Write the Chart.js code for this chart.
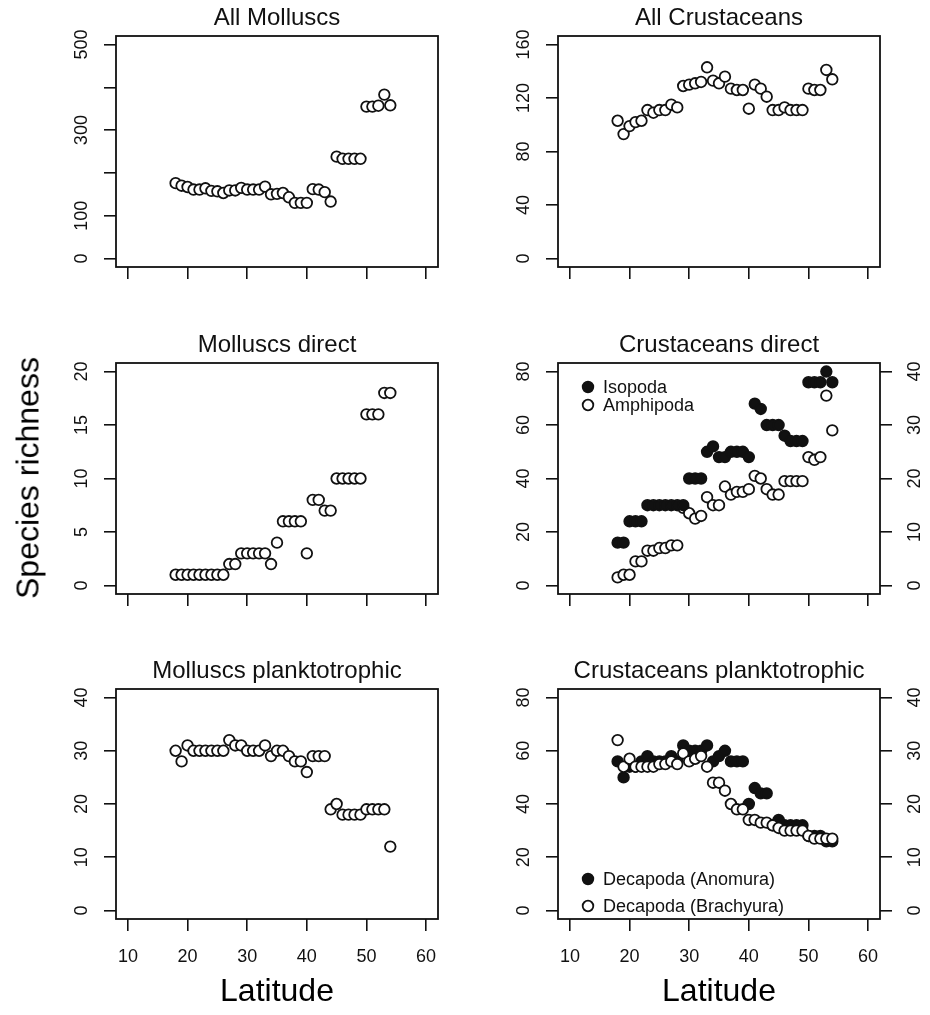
<!DOCTYPE html>
<html>
<head>
<meta charset="utf-8">
<script src="https://cdn.jsdelivr.net/npm/chart.js@4.4.0/dist/chart.umd.min.js"></script>
<style>
  body { margin: 0; background: #fff; }
  #wrap { position: relative; width: 930px; height: 1015px; overflow: hidden; font-family: "Liberation Sans", Arial, sans-serif; }
  #wrap canvas { position: absolute; }
  .lab { position: absolute; color: #000; font-size: 32px; white-space: nowrap; }
</style>
</head>
<body>
<div id="wrap">
  <canvas id="p1"></canvas>
  <canvas id="p2"></canvas>
  <canvas id="p3"></canvas>
  <canvas id="p4"></canvas>
  <canvas id="p5"></canvas>
  <canvas id="p6"></canvas>
  <div class="lab" id="ylab">Species richness</div>
  <div class="lab" id="xlab1">Latitude</div>
  <div class="lab" id="xlab2">Latitude</div>
</div>
<script>
// latitude of each sampled band
const latitude = [18, 19, 20, 21, 22, 23, 24, 25, 26, 27, 28, 29, 30, 31, 32, 33, 34, 35, 36,
                  37, 38, 39, 40, 41, 42, 43, 44, 45, 46, 47, 48, 49, 50, 51, 52, 53, 54];

// species richness
const allMolluscs = [176, 170, 167, 161, 161, 164, 158, 157, 153, 159, 159, 165, 161, 161, 161, 168, 150, 151, 153,
                     143, 130, 130, 130, 162, 161, 155, 133, 238, 233, 233, 233, 233, 355, 355, 357, 383, 358];
const allCrustaceans = [103, 93, 99, 102, 103, 111, 109, 111, 111, 115, 113, 129, 130, 131, 132, 143, 133, 131, 136,
                        127, 126, 126, 112, 130, 127, 121, 111, 111, 113, 111, 111, 111, 127, 126, 126, 141, 134];
const molluscsDirect = [1, 1, 1, 1, 1, 1, 1, 1, 1, 2, 2, 3, 3, 3, 3, 3, 2, 4, 6,
                        6, 6, 6, 3, 8, 8, 7, 7, 10, 10, 10, 10, 10, 16, 16, 16, 18, 18];
const isopoda = [16, 16, 24, 24, 24, 30, 30, 30, 30, 30, 30, 30, 40, 40, 40, 50, 52, 48, 48,
                 50, 50, 50, 48, 68, 66, 60, 60, 60, 56, 54, 54, 54, 76, 76, 76, 80, 76];
const amphipoda = [1.5, 2, 2, 4.5, 4.5, 6.5, 6.5, 7, 7, 7.5, 7.5, 14.5, 13.5, 12.5, 13, 16.5, 15, 15, 18.5,
                   17, 17.5, 17.5, 18, 20.5, 20, 18, 17, 17, 19.5, 19.5, 19.5, 19.5, 24, 23.5, 24, 35.5, 29];
const molluscsPlank = [30, 28, 31, 30, 30, 30, 30, 30, 30, 32, 31, 31, 30, 30, 30, 31, 29, 30, 30,
                       29, 28, 28, 26, 29, 29, 29, 19, 20, 18, 18, 18, 18, 19, 19, 19, 19, 12];
const anomura = [56, 50, 54, 54, 56, 58, 56, 56, 56, 58, 56, 62, 60, 60, 60, 62, 56, 58, 60,
                 56, 56, 56, 40, 46, 44, 44, 32, 34, 32, 32, 32, 32, 28, 28, 28, 26, 26];
const brachyura = [32, 27, 28.5, 27, 27, 27, 27, 27.5, 27.5, 28, 27.5, 29.5, 28, 28.5, 29, 27, 24, 24, 22.5,
                   20, 19, 19, 17, 17, 16.5, 16.5, 16, 15.5, 15, 15, 15, 15, 14, 13.5, 13.5, 13.5, 13.5];

// axis ticks
const latTicks = [10, 20, 30, 40, 50, 60];
const ticks500 = [0, 100, 200, 300, 400, 500];
const labels500 = [0, 100, 300, 500];
const ticks160 = [0, 40, 80, 120, 160];
const ticks20 = [0, 5, 10, 15, 20];
const ticks80 = [0, 20, 40, 60, 80];
const ticks40 = [0, 10, 20, 30, 40];

const FONT = '"Liberation Sans", Arial, sans-serif';
const INK = '#111';
const AXIS_W = 48;
const AXIS_H = 55;

// measure widest label so rotated labels sit at the same distance as R does
const mctx = document.createElement('canvas').getContext('2d');
mctx.font = '18px ' + FONT;
function labelPad(labels, dist) {
  let w = 0;
  labels.forEach(l => { w = Math.max(w, mctx.measureText(String(l)).width); });
  return dist - 12 - w / 2;
}

function xScale(showLabels) {
  return {
    type: 'linear', position: 'bottom', min: 8, max: 62,
    afterBuildTicks: s => { s.ticks = latTicks.map(v => ({ value: v })); },
    afterFit: s => { s.height = AXIS_H; s.paddingLeft = 0; s.paddingRight = 0; },
    grid: { drawOnChartArea: false, drawTicks: true, tickLength: 12, color: INK, lineWidth: 1.6 },
    border: { display: false },
    ticks: {
      padding: 15, color: INK, font: { family: FONT, size: 18 }, maxRotation: 0,
      callback: v => showLabels ? String(v) : ''
    }
  };
}

function yScale(top, tickVals, labelVals, position) {
  const dist = position === 'left' ? 34 : 35;
  return {
    type: 'linear', position: position, min: -0.04 * top, max: 1.04 * top,
    afterBuildTicks: s => { s.ticks = tickVals.map(v => ({ value: v })); },
    afterFit: s => { s.width = AXIS_W; s.paddingTop = 0; s.paddingBottom = 0; },
    grid: { drawOnChartArea: false, drawTicks: true, tickLength: 12, color: INK, lineWidth: 1.6 },
    border: { display: false },
    ticks: {
      minRotation: 90, maxRotation: 90, crossAlign: 'center',
      padding: labelPad(labelVals, dist), color: INK, font: { family: FONT, size: 18 },
      callback: v => labelVals.includes(v) ? String(v) : ''
    }
  };
}

function series(label, vals, filled, axis, order) {
  return {
    label: label,
    data: latitude.map((x, i) => ({ x: x, y: vals[i] })),
    yAxisID: axis,
    order: order || 0,
    showLine: false,
    pointRadius: 5.3,
    pointBorderWidth: 1.8,
    pointBorderColor: INK,
    pointBackgroundColor: filled ? INK : '#fff'
  };
}

// box around the plot region, panel title and the in-plot legend
const panelFrame = {
  id: 'panelFrame',
  afterDraw(chart, args, opts) {
    const ctx = chart.ctx;
    const a = chart.chartArea;
    ctx.save();
    ctx.strokeStyle = INK;
    ctx.lineWidth = 1.8;
    ctx.strokeRect(a.left, a.top, a.right - a.left, a.bottom - a.top);
    ctx.fillStyle = INK;
    ctx.font = '24px ' + FONT;
    ctx.textAlign = 'center';
    ctx.textBaseline = 'middle';
    ctx.fillText(opts.title, (a.left + a.right) / 2, a.top - 18);
    if (opts.legend) {
      ctx.font = '18px ' + FONT;
      ctx.textAlign = 'left';
      chart.data.datasets.forEach((ds, i) => {
        const y = a.top + opts.legend.y + i * opts.legend.dy;
        const x = a.left + opts.legend.x;
        ctx.beginPath();
        ctx.arc(x, y, 5.3, 0, Math.PI * 2);
        ctx.fillStyle = ds.pointBackgroundColor;
        ctx.fill();
        ctx.lineWidth = 1.8;
        ctx.stroke();
        ctx.fillStyle = INK;
        ctx.fillText(ds.label, x + 15, y + 1);
      });
    }
    ctx.restore();
  }
};

// canvas placement and plot-box edges for each panel
const colX = [{ c: 0, l: 116, r: 438 }, { c: 465, l: 558, r: 880 }];
const rowY = [{ c: 0, h: 325, t: 36, b: 267 }, { c: 320, h: 330, t: 363, b: 594 }, { c: 640, h: 375, t: 689, b: 919 }];

function makePanel(id, col, row, title, datasets, yScales, showX, legend) {
  const cx = colX[col], ry = rowY[row];
  const cvs = document.getElementById(id);
  cvs.width = 465; cvs.height = ry.h;
  cvs.style.left = cx.c + 'px'; cvs.style.top = ry.c + 'px';
  const hasRight = !!yScales.y2;
  const scales = Object.assign({ x: xScale(showX) }, yScales);
  new Chart(cvs, {
    type: 'scatter',
    data: { datasets: datasets },
    options: {
      responsive: false, animation: false, devicePixelRatio: 1,
      layout: {
        padding: {
          left: cx.l - cx.c - AXIS_W,
          right: cx.c + 465 - cx.r - (hasRight ? AXIS_W : 0),
          top: ry.t - ry.c,
          bottom: ry.c + ry.h - ry.b - AXIS_H
        }
      },
      scales: scales,
      plugins: {
        legend: { display: false },
        tooltip: { enabled: false },
        panelFrame: { title: title, legend: legend }
      }
    },
    plugins: [panelFrame]
  });
}

makePanel('p1', 0, 0, 'All Molluscs',
  [series('All Molluscs', allMolluscs, false, 'y')],
  { y: yScale(500, ticks500, labels500, 'left') }, false);

makePanel('p2', 1, 0, 'All Crustaceans',
  [series('All Crustaceans', allCrustaceans, false, 'y')],
  { y: yScale(160, ticks160, ticks160, 'left') }, false);

makePanel('p3', 0, 1, 'Molluscs direct',
  [series('Molluscs direct', molluscsDirect, false, 'y')],
  { y: yScale(20, ticks20, ticks20, 'left') }, false);

makePanel('p4', 1, 1, 'Crustaceans direct',
  [series('Isopoda', isopoda, true, 'y', 0), series('Amphipoda', amphipoda, false, 'y2', 1)],
  { y: yScale(80, ticks80, ticks80, 'left'), y2: yScale(40, ticks40, ticks40, 'right') }, false,
  { x: 30, y: 24, dy: 18 });

makePanel('p5', 0, 2, 'Molluscs planktotrophic',
  [series('Molluscs planktotrophic', molluscsPlank, false, 'y')],
  { y: yScale(40, ticks40, ticks40, 'left') }, true);

makePanel('p6', 1, 2, 'Crustaceans planktotrophic',
  [series('Decapoda (Anomura)', anomura, true, 'y', 1), series('Decapoda (Brachyura)', brachyura, false, 'y2', 0)],
  { y: yScale(80, ticks80, ticks80, 'left'), y2: yScale(40, ticks40, ticks40, 'right') }, true,
  { x: 30, y: 190, dy: 27 });

// outer axis titles
const ylab = document.getElementById('ylab');
ylab.style.left = '28px'; ylab.style.top = '478px';
ylab.style.transform = 'translate(-50%, -50%) rotate(-90deg)';
['xlab1', 'xlab2'].forEach((id, i) => {
  const el = document.getElementById(id);
  el.style.left = (i === 0 ? 277 : 719) + 'px';
  el.style.top = '990px';
  el.style.transform = 'translate(-50%, -50%)';
});
</script>
</body>
</html>
